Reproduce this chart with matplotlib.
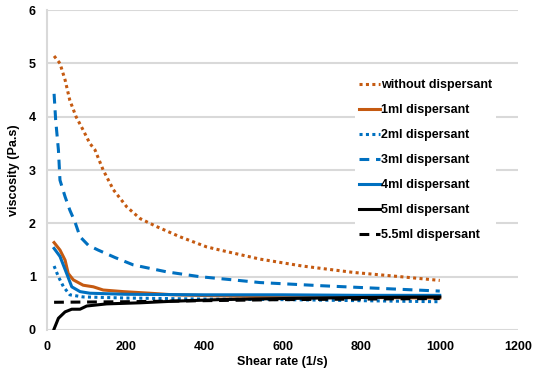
import matplotlib.pyplot as plt

# Shear rate (1/s) and viscosity (Pa.s)
x_none = [18, 33, 46, 58, 74, 92, 109, 122, 143, 169, 203, 237, 279, 338, 406, 440, 542, 650, 780, 900, 1000]
y_none = [5.14, 5.0, 4.69, 4.31, 4.0, 3.75, 3.5, 3.38, 3.0, 2.63, 2.31, 2.09, 1.94, 1.75, 1.56, 1.5, 1.33, 1.2, 1.08, 1.0, 0.93]

x_1ml = [18, 33, 46, 54, 67, 92, 118, 143, 194, 262, 321, 440, 600, 800, 1000]
y_1ml = [1.64, 1.5, 1.31, 1.06, 0.94, 0.84, 0.81, 0.75, 0.72, 0.69, 0.66, 0.64, 0.62, 0.61, 0.6]

x_2ml = [18, 29, 42, 58, 92, 200, 400, 600, 800, 1000]
y_2ml = [1.2, 1.0, 0.81, 0.66, 0.62, 0.6, 0.58, 0.57, 0.55, 0.53]

x_3ml = [18, 22, 29, 33, 46, 58, 71, 84, 105, 130, 173, 220, 305, 389, 474, 542, 700, 850, 1000]
y_3ml = [4.43, 3.94, 3.38, 2.81, 2.5, 2.25, 2.03, 1.75, 1.59, 1.5, 1.36, 1.22, 1.09, 1.0, 0.94, 0.89, 0.83, 0.78, 0.73]

x_4ml = [18, 33, 50, 63, 84, 109, 200, 400, 600, 800, 1000]
y_4ml = [1.53, 1.38, 1.06, 0.81, 0.72, 0.69, 0.67, 0.66, 0.66, 0.65, 0.65]

x_5ml = [18, 29, 46, 63, 84, 101, 152, 237, 321, 440, 600, 800, 1000]
y_5ml = [0.02, 0.22, 0.34, 0.39, 0.39, 0.45, 0.49, 0.51, 0.54, 0.57, 0.59, 0.61, 0.62]

x_55ml = [18, 200, 400, 600, 800, 1000]
y_55ml = [0.52, 0.53, 0.55, 0.57, 0.58, 0.59]

orange = "#C55A11"
blue = "#0070C0"

plt.rcParams["font.family"] = ["Liberation Sans", "DejaVu Sans"]
plt.rcParams["font.weight"] = "bold"

fig = plt.figure(figsize=(5.38, 3.75), dpi=100)
ax = fig.add_axes([0.0874, 0.12, 0.876, 0.853])

lw = 2.2
ax.plot(x_none, y_none, color=orange, lw=lw, ls=(0, (1, 1.1)), label="without dispersant")
ax.plot(x_1ml, y_1ml, color=orange, lw=lw, label="1ml dispersant")
ax.plot(x_2ml, y_2ml, color=blue, lw=lw, ls=(0, (1, 1.1)), label="2ml dispersant")
ax.plot(x_3ml, y_3ml, color=blue, lw=lw, ls=(0, (3.2, 2.2)), label="3ml dispersant")
ax.plot(x_4ml, y_4ml, color=blue, lw=lw, label="4ml dispersant")
ax.plot(x_5ml, y_5ml, color="black", lw=lw, label="5ml dispersant")
ax.plot(x_55ml, y_55ml, color="black", lw=lw, ls=(0, (3.2, 2.2)), label="5.5ml dispersant")

ax.set_xlim(0, 1200)
ax.set_ylim(0, 6)
ax.set_xticks(range(0, 1201, 200))
ax.set_yticks(range(0, 7))
ax.grid(axis="y", color="#d9d9d9", lw=1.5)
ax.set_axisbelow(True)
for s in ["top", "right", "bottom"]:
    ax.spines[s].set_visible(False)
ax.spines["left"].set_color("#d9d9d9")
ax.spines["left"].set_linewidth(1.5)
ax.tick_params(length=0, labelsize=9, pad=8)

ax.set_xlabel("Shear rate (1/s)", fontsize=9, fontweight="bold", labelpad=2)
ax.set_ylabel("viscosity (Pa.s)", fontsize=9, fontweight="bold", labelpad=6)

leg = ax.legend(loc="upper left", bbox_to_anchor=(0.64, 0.816), frameon=True, fontsize=9,
                handlelength=1.7, handletextpad=0.1, labelspacing=1.04, borderpad=0.3)
leg.get_frame().set_edgecolor("none")
leg.get_frame().set_facecolor("white")
leg.get_frame().set_alpha(1)
leg.get_frame().set_boxstyle("square", pad=0)

fig.savefig("out.png", dpi=100)
